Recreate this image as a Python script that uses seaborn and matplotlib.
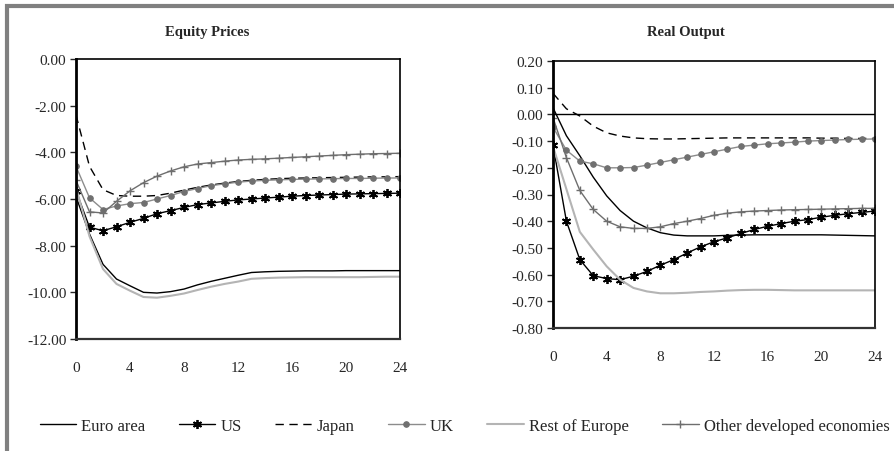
import numpy as np
import pandas as pd
import matplotlib
matplotlib.use("Agg")
import matplotlib.pyplot as plt
import seaborn as sns
from matplotlib.patches import Rectangle
from matplotlib.ticker import FuncFormatter

sns.set_style("white")
plt.rcParams['font.family'] = ['Liberation Serif', 'DejaVu Serif']

# horizon (months)
horizon = list(range(25))

series_names = ["Euro area", "US", "Japan", "UK", "Rest of Europe", "Other developed economies"]

# Equity prices responses
eq_euro = [-5.9, -7.5, -8.8, -9.43, -9.72, -10.0, -10.03, -9.97, -9.86, -9.68, -9.53, -9.4, -9.27,
           -9.15, -9.12, -9.1, -9.09, -9.08, -9.08, -9.08, -9.07, -9.07, -9.07, -9.07, -9.07]
eq_us = [-5.65, -7.21, -7.36, -7.19, -7.0, -6.83, -6.63, -6.5, -6.36, -6.24, -6.17, -6.1, -6.04,
         -6.0, -5.96, -5.92, -5.88, -5.85, -5.83, -5.81, -5.79, -5.78, -5.77, -5.76, -5.75]
eq_japan = [-2.4, -4.6, -5.6, -5.85, -5.88, -5.88, -5.85, -5.75, -5.62, -5.5, -5.4, -5.32, -5.25,
            -5.2, -5.16, -5.13, -5.11, -5.1, -5.09, -5.08, -5.07, -5.06, -5.05, -5.05, -5.04]
eq_uk = [-4.6, -5.95, -6.45, -6.3, -6.2, -6.15, -6.0, -5.85, -5.68, -5.55, -5.43, -5.35, -5.28,
         -5.23, -5.2, -5.18, -5.16, -5.15, -5.14, -5.13, -5.12, -5.12, -5.11, -5.1, -5.1]
eq_rest = [-5.5, -7.6, -9.0, -9.64, -9.93, -10.2, -10.23, -10.15, -10.05, -9.9, -9.76, -9.64, -9.54,
           -9.42, -9.39, -9.37, -9.36, -9.35, -9.35, -9.35, -9.35, -9.35, -9.34, -9.33, -9.33]
eq_other = [-5.2, -6.55, -6.6, -6.1, -5.65, -5.3, -5.02, -4.8, -4.62, -4.5, -4.44, -4.38, -4.33,
            -4.3, -4.28, -4.25, -4.22, -4.19, -4.16, -4.13, -4.1, -4.08, -4.06, -4.05, -4.04]

# Real output responses
out_euro = [0.025, -0.08, -0.155, -0.235, -0.305, -0.36, -0.4, -0.425, -0.443, -0.452, -0.455,
            -0.455, -0.455, -0.453, -0.452, -0.451, -0.451, -0.451, -0.451, -0.451, -0.451,
            -0.452, -0.453, -0.454, -0.455]
out_us = [-0.115, -0.4, -0.544, -0.604, -0.615, -0.619, -0.606, -0.588, -0.565, -0.544, -0.519,
          -0.496, -0.477, -0.462, -0.446, -0.431, -0.419, -0.409, -0.4, -0.394, -0.385, -0.378,
          -0.372, -0.367, -0.362]
out_japan = [0.079, 0.021, -0.006, -0.044, -0.069, -0.081, -0.088, -0.091, -0.092, -0.092, -0.091,
             -0.09, -0.089, -0.088, -0.088, -0.088, -0.088, -0.088, -0.088, -0.088, -0.089,
             -0.089, -0.09, -0.09, -0.09]
out_uk = [-0.048, -0.134, -0.175, -0.185, -0.2, -0.2, -0.199, -0.19, -0.18, -0.17, -0.16, -0.15,
          -0.14, -0.13, -0.12, -0.115, -0.11, -0.107, -0.104, -0.1, -0.098, -0.096, -0.094,
          -0.093, -0.092]
out_rest = [-0.12, -0.28, -0.44, -0.506, -0.569, -0.619, -0.65, -0.663, -0.67, -0.67, -0.668,
            -0.665, -0.663, -0.66, -0.658, -0.657, -0.657, -0.658, -0.659, -0.659, -0.659,
            -0.659, -0.659, -0.659, -0.659]
out_other = [-0.012, -0.162, -0.285, -0.356, -0.4, -0.421, -0.427, -0.427, -0.421, -0.409, -0.4,
             -0.39, -0.378, -0.37, -0.365, -0.362, -0.36, -0.358, -0.357, -0.356, -0.355,
             -0.354, -0.353, -0.352, -0.352]

equity = [eq_euro, eq_us, eq_japan, eq_uk, eq_rest, eq_other]
output = [out_euro, out_us, out_japan, out_uk, out_rest, out_other]

styles = {
    "Euro area": dict(color="black", lw=1.0),
    "US": dict(color="black", lw=1.0, marker=(6, 2, 0), ms=6.5, mew=1.3, mec="black"),
    "Japan": dict(color="black", lw=1.0, linestyle=(0, (6, 4))),
    "UK": dict(color="#8c8c8c", lw=1.0, marker="o", ms=4, mfc="#707070", mec="#707070"),
    "Rest of Europe": dict(color="#b4b4b4", lw=1.5),
    "Other developed economies": dict(color="#6e6e6e", lw=1.0, marker="+", ms=6, mew=1.0,
                                      mec="#6e6e6e"),
}

fig = plt.figure(figsize=(8.94, 4.52), dpi=100)
ax1 = fig.add_axes([76 / 894, 1 - 340 / 452, 324 / 894, 280 / 452])
ax2 = fig.add_axes([553 / 894, 1 - 329 / 452, 322 / 894, 267 / 452])

def draw(ax, data):
    for name, vals in zip(series_names, data):
        df = pd.DataFrame({"t": horizon, "v": vals})
        sns.lineplot(data=df, x="t", y="v", ax=ax, label=name, legend=False, **styles[name])

draw(ax1, equity)
draw(ax2, output)

fmt = FuncFormatter(lambda v, p: f"{v + 0.0:.2f}" if abs(v) > 1e-9 else "0.00")

for ax in (ax1, ax2):
    ax.set_xlim(0, 24)
    ax.set_xticks(range(0, 25, 4))
    ax.set_xlabel("")
    ax.set_ylabel("")
    for s in ax.spines.values():
        s.set_color("black")
        s.set_linewidth(1.2)
    ax.spines["left"].set_linewidth(2.0)
    ax.spines["bottom"].set_color("#333333")
    ax.spines["bottom"].set_linewidth(1.6)
    ax.tick_params(axis="y", direction="out", length=4, width=1, left=True, labelsize=11, pad=3)
    ax.tick_params(axis="x", length=0, labelsize=11, pad=16)
    ax.yaxis.set_major_formatter(fmt)

ax1.set_ylim(-12, 0)
ax1.set_yticks(np.arange(-12, 0.1, 2))
ax1.set_title("Equity Prices", fontsize=10.5, fontweight="bold", x=0.404, pad=17)

ax2.set_ylim(-0.8, 0.2)
ax2.set_yticks(np.round(np.arange(-0.8, 0.21, 0.1), 2))
ax2.axhline(0, color="black", lw=1.0, zorder=1)
ax2.set_title("Real Output", fontsize=10.5, fontweight="bold", x=0.413, pad=19)

handles, labels = ax1.get_legend_handles_labels()
fig.legend(handles, labels, loc="center", bbox_to_anchor=(0.5195, 1 - 427 / 452), ncol=6,
           frameon=False, fontsize=12, handlelength=2.2, handletextpad=0.3, columnspacing=2.0)

# outer frame
fig.patches.append(Rectangle((7 / 894, -0.1), 1.2, 1 - 7 / 452 + 0.1, transform=fig.transFigure,
                             fill=False, edgecolor="#808080", lw=3))

fig.savefig("out.png", dpi=100)
